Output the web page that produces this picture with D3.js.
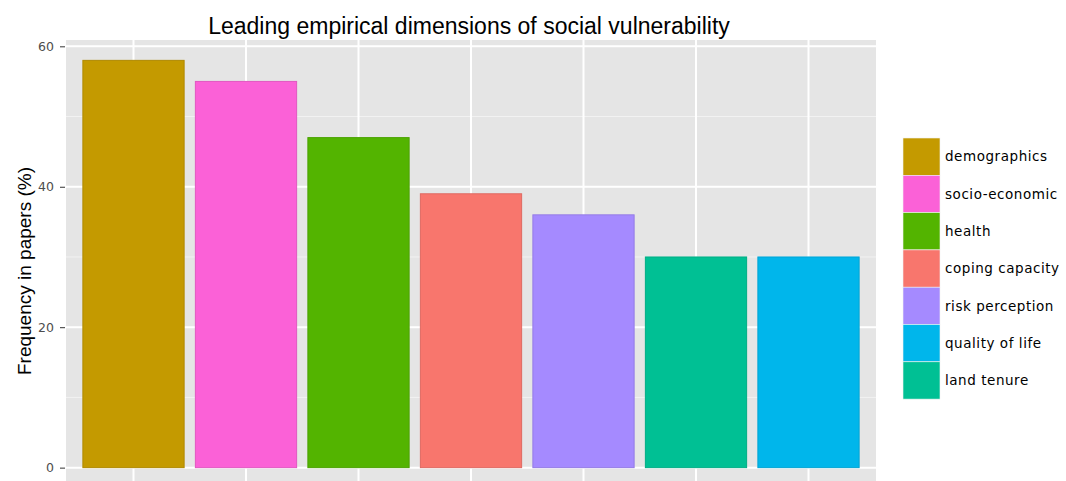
<!DOCTYPE html>
<html>
<head>
<meta charset="utf-8">
<script src="https://cdn.jsdelivr.net/npm/d3@7"></script>
<style>
  body { margin: 0; background: #fff; }
  svg { display: block; }
</style>
</head>
<body>
<svg id="chart"></svg>
<script>
// bar order as drawn
var categories = ["demographics", "socio-economic", "health", "coping capacity", "risk perception", "land tenure", "quality of life"];
var values = [58, 55, 47, 39, 36, 30, 30];
// legend order
var legendOrder = ["demographics", "socio-economic", "health", "coping capacity", "risk perception", "quality of life", "land tenure"];
var colors = {
  "coping capacity": "#F8766D",
  "demographics": "#C49A00",
  "health": "#53B400",
  "land tenure": "#00C094",
  "quality of life": "#00B6EB",
  "risk perception": "#A58AFF",
  "socio-economic": "#FB61D7"
};
var yTicks = [0, 20, 40, 60];
var yMinor = [10, 30, 50];

var W = 1066, H = 481;
var panel = {left: 66, right: 876, top: 40, bottom: 488};

var svg = d3.select("#chart").attr("width", W).attr("height", H);

// discrete x like ggplot: 0.6 expansion each side
var x = d3.scaleLinear().domain([0.4, categories.length + 0.6]).range([panel.left, panel.right]);
var y = d3.scaleLinear().domain([-2.9, 60.9]).range([panel.bottom, panel.top]);

svg.append("rect")
  .attr("x", panel.left).attr("y", panel.top)
  .attr("width", panel.right - panel.left).attr("height", panel.bottom - panel.top)
  .attr("fill", "#E5E5E5");

var grid = svg.append("g");
grid.selectAll(".minor").data(yMinor).enter().append("line")
  .attr("x1", panel.left).attr("x2", panel.right)
  .attr("y1", d => y(d)).attr("y2", d => y(d))
  .attr("stroke", "#F2F2F2").attr("stroke-width", 1);
grid.selectAll(".major").data(yTicks).enter().append("line")
  .attr("x1", panel.left).attr("x2", panel.right)
  .attr("y1", d => y(d)).attr("y2", d => y(d))
  .attr("stroke", "#fff").attr("stroke-width", 2);
grid.selectAll(".vmajor").data(categories).enter().append("line")
  .attr("x1", (d, i) => x(i + 1)).attr("x2", (d, i) => x(i + 1))
  .attr("y1", panel.top).attr("y2", panel.bottom)
  .attr("stroke", "#fff").attr("stroke-width", 2);

var bw = x(1.45) - x(0.55);
svg.selectAll(".bar").data(categories).enter().append("rect")
  .attr("x", (d, i) => x(i + 1) - bw / 2)
  .attr("y", (d, i) => y(values[i]))
  .attr("width", bw)
  .attr("height", (d, i) => y(0) - y(values[i]))
  .attr("fill", d => colors[d])
  .attr("stroke", d => d3.rgb(colors[d]).darker(0.3))
  .attr("stroke-width", 1);

// y axis
var yAxis = d3.axisLeft(y).tickValues(yTicks).tickSize(5).tickPadding(6);
var ya = svg.append("g")
  .attr("transform", "translate(" + (panel.left - 1) + ",0)")
  .call(yAxis);
ya.select(".domain").remove();
ya.selectAll(".tick line").attr("stroke", "#333");
ya.selectAll(".tick text")
  .attr("fill", "#4D4D4D")
  .style("font-family", "'DejaVu Sans', Verdana, sans-serif")
  .style("font-size", "12.5px");

svg.append("text")
  .attr("transform", "translate(31,271) rotate(-90)")
  .attr("text-anchor", "middle")
  .style("font-family", "'Liberation Sans', Arial, sans-serif")
  .style("font-size", "19px")
  .attr("fill", "#000")
  .text("Frequency in papers (%)");

svg.append("text")
  .attr("x", 469)
  .attr("y", 34)
  .attr("text-anchor", "middle")
  .style("font-family", "'Liberation Sans', Arial, sans-serif")
  .style("font-size", "23px")
  .attr("fill", "#000")
  .text("Leading empirical dimensions of social vulnerability");

// legend
var keyH = 37.3, keyW = 37, lx = 903, ly = 138;
var legend = svg.selectAll(".legend").data(legendOrder).enter().append("g")
  .attr("transform", (d, i) => "translate(" + lx + "," + (ly + i * keyH) + ")");
legend.append("rect")
  .attr("width", keyW).attr("height", keyH)
  .attr("fill", d => colors[d])
  .attr("stroke", "#F2F2F2").attr("stroke-width", 0.6);
legend.append("text")
  .attr("x", keyW + 5).attr("y", keyH / 2)
  .attr("dy", "0.35em")
  .style("font-family", "'DejaVu Sans', Verdana, sans-serif")
  .style("font-size", "13.5px")
  .style("letter-spacing", "0.55px")
  .attr("fill", "#000")
  .text(d => d);
</script>
</body>
</html>
